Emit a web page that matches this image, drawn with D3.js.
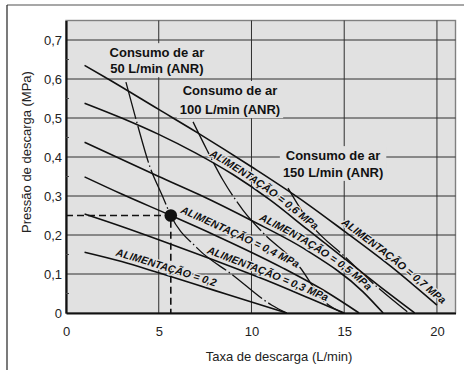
<!DOCTYPE html>
<html><head><meta charset="utf-8">
<script src="https://cdn.jsdelivr.net/npm/d3@7"></script>
<style>
body{margin:0;background:#fff;}
svg{display:block;font-family:"Liberation Sans",Arial,Helvetica,sans-serif;}
</style></head><body>
<svg id="chart" width="465" height="370"></svg>
<script>
// Axis ticks
const xTicks = [0, 5, 10, 15, 20];
const yTicks = [0, 0.1, 0.2, 0.3, 0.4, 0.5, 0.6, 0.7];
const yTickLabels = ["0", "0,1", "0,2", "0,3", "0,4", "0,5", "0,6", "0,7"];
const yMinorTicks = [0.05, 0.15, 0.25, 0.35, 0.45, 0.55, 0.65];

// Supply pressure curves: [flow L/min, outlet pressure MPa]
const supplyLabels = ["ALIMENTAÇÃO = 0,2", "ALIMENTAÇÃO = 0,3 MPa", "ALIMENTAÇÃO = 0,4 MPa",
                      "ALIMENTAÇÃO = 0,5 MPa", "ALIMENTAÇÃO = 0,6 MPa", "ALIMENTAÇÃO = 0,7 MPa"];
const supply02 = [[1,0.156],[3,0.132],[5,0.103],[8,0.058],[10,0.028],[11.9,0]];
const supply03 = [[1,0.254],[3,0.222],[5,0.188],[8,0.135],[11,0.08],[13.5,0.03],[15,0]];
const supply04 = [[1,0.349],[3,0.305],[5.65,0.25],[8,0.2],[11.7,0.115],[14,0.055],[15.8,0]];
const supply05 = [[1,0.438],[5,0.35],[7.2,0.303],[10,0.237],[13,0.16],[16,0.055],[17.1,0]];
const supply06 = [[1,0.538],[3,0.5],[5,0.458],[7,0.41],[9,0.355],[11,0.29],[13,0.215],[15,0.14],[17,0.065],[18.8,0]];
const supply07 = [[1,0.635],[2.27,0.6],[5,0.522],[7.1,0.462],[10,0.375],[13,0.28],[15,0.21],[17.5,0.12],[20,0.02]];

// Air consumption lines
const consumptionLabels = [["Consumo de ar", "50 L/min (ANR)"],
                           ["Consumo de ar", "100 L/min (ANR)"],
                           ["Consumo de ar", "150 L/min (ANR)"]];
const consumption50  = [[3.23,0.592],[3.83,0.487],[4.53,0.374],[5.2,0.3],[5.65,0.25],[7.06,0.167],[9.0,0.097],[11.1,0.02],[11.9,0]];
const consumption100 = [[6.85,0.49],[7.6,0.418],[8.46,0.341],[9.54,0.264],[10.57,0.208],[12.6,0.118],[13.85,0.033],[14.93,0]];
const consumption150 = [[11.97,0.32],[13.15,0.231],[15.04,0.144],[16.77,0.067],[18.4,0.003]];

// Example operating point
const operatingPoint = [5.65, 0.25];

const axisTitleX = "Taxa de descarga (L/min)";
const axisTitleY = "Pressão de descarga (MPa)";

const svg = d3.select("#chart");
const x = d3.scaleLinear().domain([0, 21]).range([66, 455.5]);
const y = d3.scaleLinear().domain([0, 0.75]).range([313, 20.5]);
const fill = "#e1e1e1";

// outer frame
svg.append("line").attr("x1", 7).attr("x2", 464).attr("y1", 5).attr("y2", 5)
  .attr("stroke", "#8a8a8a").attr("stroke-width", 1.6);
svg.append("line").attr("x1", 7).attr("x2", 7).attr("y1", 5).attr("y2", 370)
  .attr("stroke", "#222").attr("stroke-width", 1.2);

// plot background
svg.append("rect").attr("x", x(0)).attr("y", y(0.75))
  .attr("width", x(21) - x(0)).attr("height", y(0) - y(0.75))
  .attr("fill", fill).attr("stroke", "#808080").attr("stroke-width", 1.4);

// grid
const grid = svg.append("g").attr("stroke", "#2e2e2e").attr("stroke-width", 1);
grid.selectAll("line.v").data(xTicks.filter(d => d > 0)).join("line")
  .attr("x1", d => x(d)).attr("x2", d => x(d)).attr("y1", y(0)).attr("y2", y(0.75));
grid.selectAll("line.h").data(yTicks.filter(d => d > 0)).join("line")
  .attr("x1", x(0)).attr("x2", x(21)).attr("y1", d => y(d)).attr("y2", d => y(d));

// axes
const xAxis = d3.axisBottom(x).tickValues(xTicks).tickSize(0).tickPadding(14).tickFormat(d3.format("d"));
const yAxis = d3.axisLeft(y).tickValues(yTicks).tickSize(0).tickPadding(4)
  .tickFormat((d, i) => yTickLabels[i]);
const gx = svg.append("g").attr("transform", `translate(0,${y(0)})`).call(xAxis);
const gy = svg.append("g").attr("transform", `translate(${x(0)},0)`).call(yAxis);
[gx, gy].forEach(g => {
  g.select(".domain").attr("stroke", "#111").attr("stroke-width", 2.2);
  g.selectAll("text").attr("font-size", 13).attr("fill", "#222")
    .attr("font-family", '"Liberation Sans",Arial,sans-serif');
});

// minor ticks on the pressure axis
svg.append("g").selectAll("line").data(yMinorTicks).join("line")
  .attr("x1", x(0)).attr("x2", x(0) + 3).attr("y1", d => y(d)).attr("y2", d => y(d))
  .attr("stroke", "#444").attr("stroke-width", 1);

// axis titles
svg.append("text").attr("x", 279).attr("y", 361).attr("text-anchor", "middle")
  .attr("font-size", 13).attr("fill", "#222").text(axisTitleX);
svg.append("text").attr("transform", "translate(31,152) rotate(-90)").attr("text-anchor", "middle")
  .attr("font-size", 13).attr("fill", "#222").text(axisTitleY);

// reference dashed lines through the operating point
svg.append("path")
  .attr("d", `M${x(0)},${y(operatingPoint[1])}H${x(operatingPoint[0])}V${y(0)}`)
  .attr("fill", "none").attr("stroke", "#111").attr("stroke-width", 1.6)
  .attr("stroke-dasharray", "7,4");

const line = d3.line().x(d => x(d[0])).y(d => y(d[1])).curve(d3.curveMonotoneX);

// consumption lines (dash-dot)
const consumption = [consumption50, consumption100, consumption150];
svg.append("g").selectAll("path").data(consumption).join("path")
  .attr("d", line).attr("fill", "none").attr("stroke", "#111").attr("stroke-width", 1.3)
  .attr("stroke-dasharray", "38,3,1.5,3");

// supply curves
const supply = [supply02, supply03, supply04, supply05, supply06, supply07];
svg.append("g").selectAll("path").data(supply).join("path")
  .attr("d", line).attr("fill", "none").attr("stroke", "#111").attr("stroke-width", 1.6);

// hidden guides for the curve labels, continued past each curve's end
const defs = svg.append("defs");
const guides = defs.selectAll("path").data(supply).join("path")
  .attr("id", (d, i) => "guide" + i)
  .attr("d", pts => {
    const a = pts[pts.length - 2], b = pts[pts.length - 1];
    const ext = [b[0] + (b[0] - a[0]), b[1] + (b[1] - a[1])];
    return line(pts.concat([ext]));
  });

// supply labels follow their curves
const labelStartX = [2.6, 7.5, 6.0, 10.3, 7.6, 14.7];
const labelLift = [-4, -4, -6.5, -4, -4, -4];
function lengthAtX(node, xv) {
  const target = x(xv);
  let lo = 0, hi = node.getTotalLength();
  for (let k = 0; k < 40; k++) {
    const mid = (lo + hi) / 2;
    if (node.getPointAtLength(mid).x < target) lo = mid; else hi = mid;
  }
  return lo;
}
const labels = svg.append("g");
guides.each(function(d, i) {
  const off = lengthAtX(this, labelStartX[i]);
  labels.append("text")
    .attr("dy", labelLift[i])
    .attr("font-size", 10.6).attr("font-weight", "bold").attr("font-style", "italic")
    .attr("fill", "#111").attr("stroke", fill).attr("stroke-width", 2.5)
    .attr("paint-order", "stroke")
    .append("textPath").attr("href", "#guide" + i).attr("startOffset", off)
    .text(supplyLabels[i]);
});

// consumption annotations
const annoPos = [[4.9, 0.656, 0.615], [8.84, 0.559, 0.51], [14.4, 0.392, 0.349]];
consumptionLabels.forEach((lines, i) => {
  const g = svg.append("g");
  const [cx, y1, y2] = annoPos[i];
  const t = g.append("text").attr("text-anchor", "middle")
    .attr("font-size", 13).attr("font-weight", "bold").attr("fill", "#111");
  t.append("tspan").attr("x", x(cx)).attr("y", y(y1)).text(lines[0]);
  t.append("tspan").attr("x", x(cx)).attr("y", y(y2)).text(lines[1]);
  const b = t.node().getBBox();
  g.insert("rect", "text").attr("x", b.x - 3).attr("y", b.y - 2)
    .attr("width", b.width + 6).attr("height", b.height + 3).attr("fill", fill);
});

// operating point marker
svg.append("circle").attr("cx", x(operatingPoint[0])).attr("cy", y(operatingPoint[1]))
  .attr("r", 6.3).attr("fill", "#111");
</script>
</body></html>
